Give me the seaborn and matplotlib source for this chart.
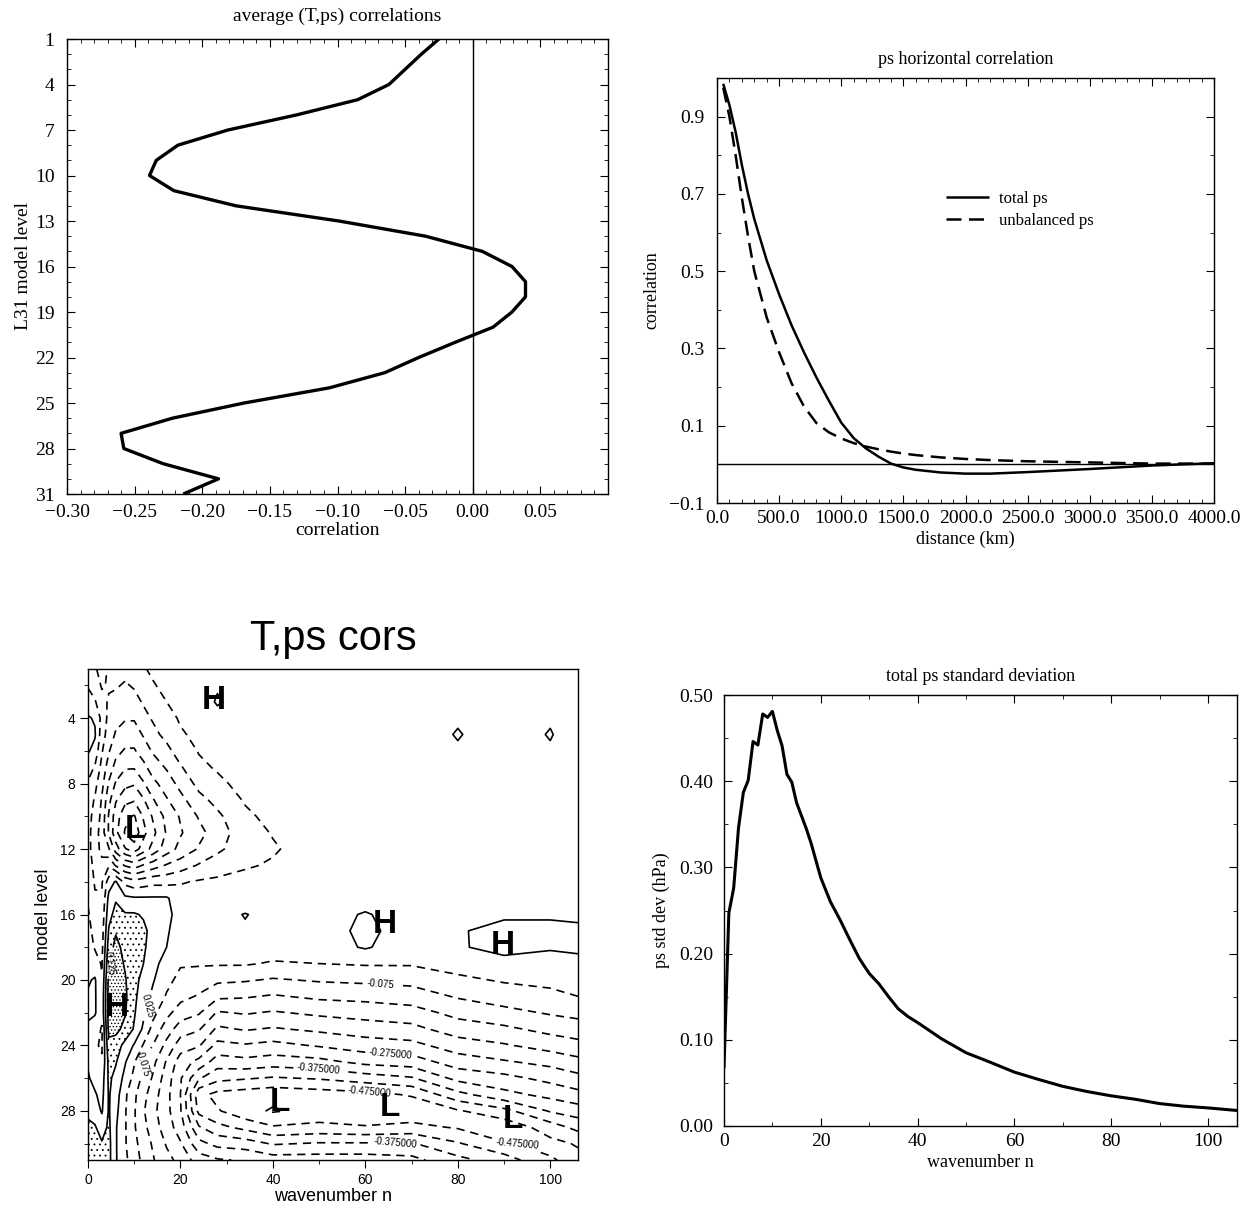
import matplotlib
matplotlib.use("Agg")
import numpy as np
import pandas as pd
import matplotlib.pyplot as plt
import matplotlib.ticker as mt
import seaborn as sns

# ---------------- data ----------------
# panel 1: average (T,ps) correlations per L31 model level
model_levels = list(range(1, 32))
avg_corr = [-0.025, -0.038, -0.050, -0.062, -0.085, -0.130, -0.181, -0.218, -0.234, -0.239,
            -0.221, -0.175, -0.099, -0.035, 0.007, 0.029, 0.039, 0.039, 0.029, 0.015,
            -0.013, -0.040, -0.065, -0.106, -0.169, -0.222, -0.260, -0.258, -0.229, -0.188, -0.214]

# panel 2: ps horizontal correlation
distance_km = [50, 100, 150, 200, 250, 300, 400, 500, 600, 700, 800, 900, 1000, 1100, 1200,
               1300, 1400, 1500, 1600, 1800, 2000, 2200, 2500, 3000, 3500, 4000]
total_ps = [0.985, 0.93, 0.86, 0.775, 0.70, 0.635, 0.528, 0.44, 0.36, 0.29, 0.225, 0.165, 0.108,
            0.068, 0.041, 0.020, 0.002, -0.008, -0.014, -0.021, -0.024, -0.024, -0.020, -0.012,
            -0.003, 0.003]
unbalanced_ps = [0.975, 0.90, 0.80, 0.69, 0.59, 0.50, 0.38, 0.29, 0.21, 0.15, 0.107, 0.083,
                 0.067, 0.055, 0.046, 0.039, 0.033, 0.028, 0.024, 0.018, 0.014, 0.011, 0.008,
                 0.005, 0.002, 0.002]

# panel 3: T,ps correlations (model level x wavenumber n)
wave_cols = [0, 1.5, 3, 4.5, 6, 8, 10, 12, 14, 17, 20, 24, 28, 34, 40, 50, 60, 70, 80, 90, 100, 106]
cor_levels = list(range(1, 32))
cor_rows = [
    [-0.04, -0.07, -0.09, -0.07, -0.05, -0.06, -0.05, -0.03, -0.015, 0.0, 0.0, 0.0, 0.0, 0.0, 0.0, 0.0, 0.0, 0.0, 0.0, 0.0, 0.0, 0.0],
    [-0.03, -0.05, -0.08, -0.07, -0.07, -0.08, -0.07, -0.05, -0.03, -0.01, 0.0, 0.005, 0.02, 0.0, 0.0, 0.0, 0.0, 0.0, 0.0, 0.0, 0.0, 0.0],
    [0.0, -0.02, -0.06, -0.08, -0.09, -0.10, -0.09, -0.07, -0.05, -0.025, -0.01, 0.0, 0.03, 0.0, 0.0, 0.0, 0.0, 0.0, 0.0, 0.0, 0.0, 0.0],
    [0.03, 0.02, -0.04, -0.09, -0.11, -0.12, -0.12, -0.09, -0.07, -0.04, -0.02, -0.01, 0.01, 0.0, 0.0, 0.0, 0.0, 0.0, 0.02, 0.0, 0.02, 0.0],
    [0.04, 0.03, -0.05, -0.10, -0.13, -0.15, -0.15, -0.12, -0.09, -0.06, -0.03, -0.015, -0.005, 0.0, 0.0, 0.0, 0.0, 0.0, 0.028, 0.0, 0.028, 0.0],
    [0.03, 0.01, -0.07, -0.12, -0.16, -0.18, -0.18, -0.15, -0.12, -0.09, -0.05, -0.022, -0.01, -0.005, 0.0, 0.0, 0.0, 0.0, 0.02, 0.0, 0.02, 0.0],
    [0.0, -0.03, -0.09, -0.15, -0.19, -0.22, -0.22, -0.19, -0.15, -0.12, -0.08, -0.035, -0.02, -0.005, 0.0, 0.0, 0.0, 0.0, 0.0, 0.0, 0.0, 0.0],
    [-0.03, -0.06, -0.11, -0.18, -0.23, -0.26, -0.27, -0.23, -0.19, -0.15, -0.11, -0.06, -0.035, -0.01, 0.0, 0.0, 0.0, 0.0, 0.0, 0.0, 0.0, 0.0],
    [-0.05, -0.08, -0.13, -0.21, -0.27, -0.31, -0.32, -0.28, -0.23, -0.18, -0.14, -0.09, -0.06, -0.02, 0.0, 0.0, 0.0, 0.0, 0.0, 0.0, 0.0, 0.0],
    [-0.06, -0.09, -0.14, -0.23, -0.30, -0.36, -0.38, -0.32, -0.27, -0.21, -0.17, -0.12, -0.085, -0.035, -0.01, 0.0, 0.0, 0.0, 0.0, 0.0, 0.0, 0.0],
    [-0.06, -0.10, -0.15, -0.23, -0.31, -0.38, -0.41, -0.34, -0.29, -0.22, -0.18, -0.14, -0.10, -0.045, -0.022, 0.0, 0.0, 0.0, 0.0, 0.0, 0.0, 0.0],
    [-0.06, -0.10, -0.14, -0.17, -0.25, -0.32, -0.35, -0.30, -0.26, -0.20, -0.16, -0.12, -0.085, -0.045, -0.03, 0.0, 0.0, 0.0, 0.0, 0.0, 0.0, 0.0],
    [-0.05, -0.09, -0.11, -0.08, -0.13, -0.18, -0.20, -0.17, -0.15, -0.12, -0.10, -0.07, -0.05, -0.03, -0.02, 0.0, 0.0, 0.0, 0.0, 0.0, 0.0, 0.0],
    [-0.04, -0.08, -0.08, 0.0, 0.03, -0.04, -0.06, -0.05, -0.04, -0.04, -0.03, -0.02, -0.015, -0.01, -0.005, 0.0, 0.0, 0.0, 0.0, 0.0, 0.0, 0.0],
    [-0.03, -0.07, -0.07, 0.04, 0.07, 0.035, 0.03, 0.03, 0.03, 0.03, 0.0, 0.0, 0.0, 0.0, 0.0, 0.0, 0.0, 0.0, 0.0, 0.0, 0.0, 0.0],
    [-0.02, -0.05, -0.06, 0.06, 0.09, 0.08, 0.08, 0.07, 0.05, 0.035, 0.01, 0.005, 0.01, 0.027, 0.01, 0.0, 0.03, -0.005, 0.02, 0.02, 0.02, 0.02],
    [-0.01, -0.04, -0.05, 0.08, 0.12, 0.09, 0.09, 0.085, 0.06, 0.03, 0.005, 0.005, 0.01, 0.02, 0.01, -0.005, 0.04, -0.005, 0.022, 0.035, 0.035, 0.03],
    [0.0, -0.03, -0.04, 0.10, 0.14, 0.11, 0.09, 0.08, 0.06, 0.025, 0.0, 0.0, 0.0, 0.0, 0.0, 0.0, 0.03, -0.005, 0.02, 0.04, 0.03, 0.035],
    [0.01, 0.0, -0.03, 0.12, 0.15, 0.12, 0.09, 0.075, 0.045, 0.0, -0.02, -0.02, -0.02, -0.02, -0.03, -0.025, -0.02, -0.02, -0.005, 0.01, 0.005, 0.01],
    [0.02, 0.03, -0.02, 0.14, 0.16, 0.13, 0.09, 0.06, 0.03, -0.01, -0.04, -0.05, -0.065, -0.07, -0.08, -0.07, -0.065, -0.06, -0.035, -0.02, -0.015, -0.005],
    [0.03, 0.03, -0.01, 0.15, 0.17, 0.135, 0.085, 0.05, 0.015, -0.03, -0.06, -0.08, -0.115, -0.12, -0.13, -0.115, -0.11, -0.10, -0.07, -0.05, -0.035, -0.025],
    [0.03, 0.03, -0.01, 0.15, 0.17, 0.13, 0.08, 0.035, -0.01, -0.06, -0.10, -0.12, -0.18, -0.17, -0.18, -0.165, -0.155, -0.145, -0.11, -0.09, -0.07, -0.06],
    [0.02, 0.0, -0.03, 0.14, 0.14, 0.11, 0.07, 0.015, -0.04, -0.10, -0.15, -0.17, -0.235, -0.22, -0.23, -0.215, -0.20, -0.19, -0.15, -0.135, -0.11, -0.10],
    [0.01, -0.02, -0.03, 0.11, 0.10, 0.06, 0.02, -0.03, -0.075, -0.14, -0.20, -0.22, -0.29, -0.28, -0.29, -0.27, -0.25, -0.24, -0.20, -0.18, -0.155, -0.14],
    [0.02, -0.01, -0.02, 0.09, 0.08, 0.03, -0.02, -0.08, -0.11, -0.18, -0.25, -0.29, -0.35, -0.34, -0.35, -0.34, -0.31, -0.30, -0.25, -0.23, -0.21, -0.19],
    [0.03, 0.01, 0.0, 0.085, 0.06, 0.01, -0.04, -0.09, -0.13, -0.20, -0.27, -0.37, -0.41, -0.42, -0.43, -0.42, -0.40, -0.38, -0.31, -0.29, -0.26, -0.24],
    [0.04, 0.03, 0.01, 0.08, 0.05, -0.015, -0.065, -0.11, -0.15, -0.21, -0.275, -0.46, -0.49, -0.50, -0.51, -0.50, -0.49, -0.47, -0.39, -0.34, -0.31, -0.29],
    [0.06, 0.05, 0.02, 0.08, 0.04, -0.02, -0.07, -0.12, -0.16, -0.21, -0.27, -0.44, -0.47, -0.51, -0.53, -0.51, -0.52, -0.51, -0.48, -0.44, -0.37, -0.35],
    [0.09, 0.08, 0.05, 0.085, 0.03, -0.02, -0.07, -0.11, -0.15, -0.20, -0.25, -0.37, -0.41, -0.44, -0.47, -0.46, -0.47, -0.46, -0.48, -0.51, -0.45, -0.41],
    [0.10, 0.09, 0.08, 0.09, 0.03, -0.02, -0.06, -0.10, -0.13, -0.18, -0.22, -0.31, -0.34, -0.35, -0.38, -0.37, -0.37, -0.37, -0.42, -0.47, -0.49, -0.47],
    [0.10, 0.09, 0.08, 0.09, 0.03, -0.015, -0.05, -0.09, -0.12, -0.16, -0.19, -0.25, -0.27, -0.28, -0.30, -0.30, -0.30, -0.31, -0.36, -0.40, -0.47, -0.49],
]
contour_levels = [-0.525, -0.475, -0.425, -0.375, -0.325, -0.275, -0.225, -0.175, -0.125,
                  -0.075, -0.025, 0.025, 0.075, 0.125]
labelled_levels = [-0.475, -0.375, -0.275, -0.075, 0.025, 0.125]
label_text = {-0.075: "-0.075", -0.275: "-0.275000", -0.375: "-0.375000",
              -0.475: "-0.475000", 0.025: "0.025", 0.125: "0.125"}
label_pos_n = [63.2, 65.3, 49.8, 61.0, 93.4, 66.6, 13.4, 11.7, 5.5]
label_pos_lev = [20.4, 24.7, 25.4, 26.7, 29.6, 29.8, 21.6, 25.1, 19.0]
hl_text = ["H", "L", "H", "H", "H", "L", "L", "L"]
hl_n = [27.2, 10.1, 6.2, 64.2, 89.8, 41.5, 65.3, 92.0]
hl_lev = [2.9, 10.8, 21.7, 16.6, 17.9, 27.5, 27.8, 28.5]

# panel 4: total ps standard deviation
wavenumber = [0, 1, 2, 3, 4, 5, 6, 7, 8, 9, 10, 11, 12, 13, 14, 15, 16, 17, 18, 20, 22, 24, 26,
              28, 30, 32, 34, 36, 38, 40, 45, 50, 55, 60, 65, 70, 75, 80, 85, 90, 95, 100, 106]
ps_std = [0.067, 0.247, 0.276, 0.346, 0.387, 0.401, 0.446, 0.442, 0.478, 0.474, 0.481, 0.459,
          0.441, 0.408, 0.399, 0.375, 0.360, 0.345, 0.328, 0.288, 0.260, 0.239, 0.216, 0.194,
          0.177, 0.165, 0.150, 0.136, 0.127, 0.120, 0.101, 0.085, 0.074, 0.0625, 0.054, 0.046,
          0.040, 0.035, 0.031, 0.026, 0.023, 0.021, 0.018]

# ---------------- style ----------------
sns.set_style("ticks")
SERIF = "Liberation Serif"
SANS = "Liberation Sans"
plt.rcParams.update({
    "font.family": [SERIF, "DejaVu Serif"],
    "text.color": "black",
    "axes.labelcolor": "black",
    "axes.titlecolor": "black",
    "axes.linewidth": 1.0,
    "axes.edgecolor": "black",
    "xtick.color": "black", "ytick.color": "black",
    "xtick.direction": "in", "ytick.direction": "in",
    "xtick.top": True, "ytick.right": True,
    "xtick.major.size": 6, "ytick.major.size": 6,
    "xtick.minor.size": 3, "ytick.minor.size": 3,
    "xtick.major.pad": 7, "ytick.major.pad": 9,
    "xtick.labelsize": 14, "ytick.labelsize": 14,
    "axes.labelsize": 14, "axes.titlesize": 14,
    "hatch.color": "black",
    "hatch.linewidth": 0.6,
    "lines.solid_capstyle": "butt",
})

def minus_fmt(fmt):
    return mt.FuncFormatter(lambda v, p: (fmt % v).replace("-", "\u2212"))

W, H = 1249, 1207
fig = plt.figure(figsize=(W / 100, H / 100), dpi=100)

def add_ax(l, t, r, b):
    return fig.add_axes([l / W, 1 - b / H, (r - l) / W, (b - t) / H])

ax1 = add_ax(67, 39, 608, 494)
ax2 = add_ax(717, 78, 1214, 503)
ax3 = add_ax(88, 669, 578, 1160)
ax4 = add_ax(724, 695, 1237, 1126)

# ---- panel 1
df1 = pd.DataFrame({"corr": avg_corr, "level": model_levels})
sns.lineplot(data=df1, x="corr", y="level", sort=False, estimator=None, color="black",
             lw=2.4, ax=ax1)
ax1.axvline(0, color="black", lw=1.0)
ax1.set_xlim(-0.30, 0.10)
ax1.set_ylim(31, 1)
ax1.set_xticks([-0.30, -0.25, -0.20, -0.15, -0.10, -0.05, 0.00, 0.05])
ax1.xaxis.set_major_formatter(minus_fmt("%.2f"))
ax1.xaxis.set_minor_locator(mt.MultipleLocator(0.01))
ax1.set_yticks(list(range(1, 32, 3)))
ax1.yaxis.set_minor_locator(mt.MultipleLocator(1))
ax1.tick_params(which="both", top=True, right=True)
ax1.set_xlabel("correlation", labelpad=1)
ax1.set_ylabel("L31 model level", labelpad=2)
ax1.set_title("average (T,ps) correlations", pad=13)

# ---- panel 2
df2 = pd.DataFrame({"distance": distance_km, "total": total_ps, "unbal": unbalanced_ps})
sns.lineplot(data=df2, x="distance", y="total", color="black", lw=1.8, ax=ax2,
             label="total ps")
sns.lineplot(data=df2, x="distance", y="unbal", color="black", lw=1.8, ax=ax2,
             label="unbalanced ps", linestyle=(0, (6, 3)))
ax2.axhline(0, color="black", lw=1.0)
ax2.set_xlim(0, 4000)
ax2.set_ylim(-0.1, 1.0)
ax2.set_xticks(np.arange(0, 4001, 500))
ax2.xaxis.set_major_formatter(minus_fmt("%.1f"))
ax2.xaxis.set_minor_locator(mt.MultipleLocator(100))
ax2.set_yticks([-0.1, 0.1, 0.3, 0.5, 0.7, 0.9])
ax2.yaxis.set_major_formatter(minus_fmt("%.1f"))
ax2.yaxis.set_minor_locator(mt.MultipleLocator(0.1))
ax2.tick_params(which="both", top=True, right=True)
ax2.tick_params(axis="x", pad=5)
ax2.set_xlabel("distance (km)", labelpad=3, fontsize=13)
ax2.set_ylabel("correlation", labelpad=6, fontsize=13)
ax2.set_title("ps horizontal correlation", pad=10, fontsize=13)
ax2.legend(loc="center left", bbox_to_anchor=(0.43, 0.69), frameon=False, fontsize=12,
           handlelength=2.6, handletextpad=0.6, labelspacing=0.35)

# ---- panel 3
Z = np.array(cor_rows)
NN, LL = np.meshgrid(wave_cols, cor_levels)
cf = ax3.contourf(NN, LL, Z, levels=[0.075, 0.125, 1.0], colors="none",
                  hatches=["...", "....."])
cf.set_edgecolor("black")
cf.set_linewidth(0.0)
plain_levels = [v for v in contour_levels if v not in labelled_levels]
dash = (0, (5, 3.5))
ax3.contour(NN, LL, Z, levels=plain_levels, colors="black", linewidths=1.2,
            negative_linestyles=dash)
cs_lab = ax3.contour(NN, LL, Z, levels=labelled_levels, colors="black", linewidths=1.2,
                     negative_linestyles=dash)
labs = ax3.clabel(cs_lab, inline=True, fontsize=7,
                  fmt=lambda v: label_text.get(round(float(v), 3), f"{v:.3f}"),
                  manual=list(zip(label_pos_n, label_pos_lev)))
for lab in labs:
    lab.set_family(SANS)
    if lab.get_position()[0] > 30:
        lab.set_rotation(-5)
for t, xn, yl in zip(hl_text, hl_n, hl_lev):
    ax3.text(xn, yl, t, ha="center", va="center", fontsize=24, fontweight="bold",
             family=SANS)
ax3.set_xlim(0, 106)
ax3.set_ylim(31, 1)
ax3.set_xticks(np.arange(0, 101, 20))
ax3.xaxis.set_minor_locator(mt.MultipleLocator(10))
ax3.set_yticks(np.arange(4, 29, 4))
ax3.yaxis.set_minor_locator(mt.MultipleLocator(2))
ax3.tick_params(which="both", direction="out", top=False, right=False,
                labelsize=10, labelfontfamily=SANS, pad=3)
ax3.set_xlabel("wavenumber n", family=SANS, fontsize=13, labelpad=1)
ax3.set_ylabel("model level", family=SANS, fontsize=13, labelpad=6)
ax3.set_title("T,ps cors", family=SANS, fontsize=30, pad=14)

# ---- panel 4
df4 = pd.DataFrame({"n": wavenumber, "std": ps_std})
sns.lineplot(data=df4, x="n", y="std", color="black", lw=2.2, ax=ax4)
ax4.set_xlim(0, 106)
ax4.set_ylim(0, 0.5)
ax4.set_xticks(np.arange(0, 101, 20))
ax4.xaxis.set_minor_locator(mt.MultipleLocator(10))
ax4.set_yticks(np.arange(0, 0.51, 0.1))
ax4.yaxis.set_major_formatter(minus_fmt("%.2f"))
ax4.yaxis.set_minor_locator(mt.MultipleLocator(0.05))
ax4.tick_params(which="both", top=True, right=True)
ax4.tick_params(axis="x", pad=5)
ax4.tick_params(axis="y", pad=8)
ax4.set_xlabel("wavenumber n", labelpad=3, fontsize=13)
ax4.set_ylabel("ps std dev (hPa)", labelpad=6, fontsize=13)
ax4.set_title("total ps standard deviation", pad=10, fontsize=13)

fig.savefig("out.png", dpi=100)
